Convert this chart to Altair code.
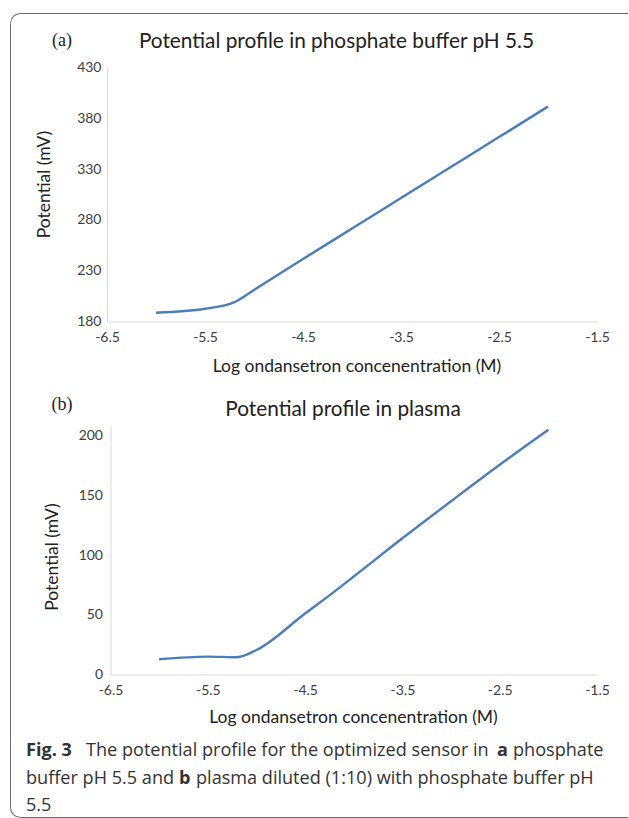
import math
import altair as alt
import pandas as pd

# ---- data ----
log_conc_a = [-6.0, -5.5, -5.2, -5.0, -4.5, -4.0, -3.5, -3.0, -2.5, -2.0]
potential_a = [188.6, 192.5, 199.0, 211.0, 241.5, 271.5, 301.5, 331.5, 361.5, 391.6]

log_conc_b = [-6.0, -5.5, -5.2, -5.0, -4.5, -4.27, -4.0, -3.5, -3.0, -2.5, -2.0]
potential_b = [12.8, 15.0, 14.5, 20.5, 51.0, 65.0, 82.0, 114.0, 145.0, 175.5, 204.8]

x_ticks = [-6.5, -5.5, -4.5, -3.5, -2.5, -1.5]
y_ticks_a = [180, 230, 280, 330, 380, 430]
y_ticks_b = [0, 50, 100, 150, 200]

title_a = "Potential profile in phosphate buffer pH 5.5"
title_b = "Potential profile in plasma"
x_title = "Log ondansetron concenentration (M)"
y_title = "Potential (mV)"

df_a = pd.DataFrame({"x": log_conc_a, "y": potential_a})
df_b = pd.DataFrame({"x": log_conc_b, "y": potential_b})
one = pd.DataFrame({"k": [0]})

FONT = "Lato"
LINE = "#4A7EBB"
AXIS_GRAY = "#D9D9D9"
LABEL = "#404040"
TEXT = "#222222"
BORDER = "#6b6b6b"
CAP = "#333333"

W = 490
HA, HB = 254, 249
TICK_FS = 14
AX_TITLE_FS = 17.5
TITLE_FS = 20.8


def txt(s, x, y, **kw):
    base = dict(text=s, font=FONT, fontSize=15, color=TEXT, align="center",
                baseline="middle")
    base.update(kw)
    return alt.Chart(one).mark_text(**base).encode(x=alt.value(x), y=alt.value(y))


def rule(x, x2, y, y2):
    return alt.Chart(one).mark_rule(color=BORDER, strokeWidth=1).encode(
        x=alt.value(x), x2=alt.value(x2), y=alt.value(y), y2=alt.value(y2))


def corner(cx, cy, t1, t2):
    return alt.Chart(one).mark_arc(radius=10.5, radius2=9.5, theta=t1, theta2=t2,
                                   color=BORDER).encode(x=alt.value(cx), y=alt.value(cy))


def axis_x(title_x, title_y):
    return alt.Axis(values=x_ticks, labelExpr="toString(datum.value)", title=x_title,
                    grid=False, ticks=False, labelFlush=False,
                    domainColor=AXIS_GRAY, labelFont=FONT, labelFontSize=TICK_FS,
                    labelColor=LABEL, labelBaseline="middle", labelPadding=16,
                    titleFont=FONT, titleFontSize=AX_TITLE_FS, titleFontWeight="normal",
                    titleColor=TEXT, titleX=title_x, titleY=title_y,
                    titleBaseline="middle", titleAlign="center")


def axis_y(vals, title_x, title_y, pad, offset=0):
    return alt.Axis(values=vals, title=y_title, grid=False, ticks=False, offset=offset,
                    labelFlush=False,
                    domainColor=AXIS_GRAY, labelFont=FONT, labelFontSize=TICK_FS,
                    labelColor=LABEL, labelPadding=pad,
                    titleFont=FONT, titleFontSize=AX_TITLE_FS, titleFontWeight="normal",
                    titleColor=TEXT, titleX=title_x, titleY=title_y,
                    titleBaseline="middle", titleAlign="center")


line_a = alt.Chart(df_a).mark_line(color=LINE, strokeWidth=2.4, interpolate="monotone").encode(
    x=alt.X("x:Q", scale=alt.Scale(domain=[-6.5, -1.5], nice=False), axis=axis_x(249.5, 45)),
    y=alt.Y("y:Q", scale=alt.Scale(domain=[180, 430], nice=False, zero=False),
            axis=axis_y(y_ticks_a, -63, 116.5, 6)),
)

# border (relative to panel a plot origin at 107, 67)
L, T, R, B = -96.5, -54, 521, 750
border = [
    rule(L + 10, R, T, T),
    rule(L, L, T + 10, B - 10),
    rule(L + 10, R, B, B),
    corner(L + 10, T + 10, 3 * math.pi / 2, 2 * math.pi),
    corner(L + 10, B - 10, math.pi, 3 * math.pi / 2),
]

panel_a = alt.layer(
    line_a,
    txt(title_a, 229.5, -26, fontSize=TITLE_FS),
    txt("(a)", -45, -27, font="Liberation Serif", fontSize=18, align="center"),
    *border,
).properties(width=W, height=HA)

line_b = alt.Chart(df_b).mark_line(color=LINE, strokeWidth=2.4, interpolate="monotone").encode(
    x=alt.X("x:Q", scale=alt.Scale(domain=[-6.5, -1.5], nice=False, range=[3.5, W]),
            axis=axis_x(246, 42.7)),
    y=alt.Y("y:Q", scale=alt.Scale(domain=[0, 208.4], nice=False),
            axis=axis_y(y_ticks_b, -58.5, 131, 8, offset=-3.5)),
)

# caption (relative to panel b plot origin at 107, 425)
cap = dict(font="Open Sans", fontSize=18.1, color=CAP, align="left", baseline="alphabetic")
capb = dict(cap, fontWeight="bold")
caption = [
    txt("Fig. 3", -81, 330, **capb),
    txt("The potential profile for the optimized sensor in", -21, 330, **cap),
    txt("a", 390, 330, **capb),
    txt("phosphate", 406, 330, **cap),
    txt("buffer pH 5.5 and", -81, 358, **cap),
    txt("b", 72, 358, **capb),
    txt("plasma diluted (1:10) with phosphate buffer pH", 89, 358, **cap),
    txt("5.5", -81, 385, **cap),
]

panel_b = alt.layer(
    line_b,
    txt(title_b, 236, -16, fontSize=TITLE_FS),
    txt("(b)", -45, -21, font="Liberation Serif", fontSize=18, align="center"),
    *caption,
).properties(width=W, height=HB)

chart = alt.vconcat(panel_a, panel_b, spacing=104, bounds="flush").properties(
    padding={"left": 10, "top": 12.5, "right": 0, "bottom": 0},
    background="white",
).configure_view(stroke=None)

chart.save("out.html", embed_options={"renderer": "svg", "actions": False})
